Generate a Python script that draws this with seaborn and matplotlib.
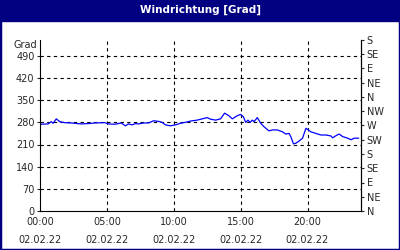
import matplotlib
matplotlib.use("Agg")
import matplotlib.pyplot as plt
import seaborn as sns
import pandas as pd
from matplotlib.patches import Rectangle

hours = [0.08, 0.6, 0.85, 0.98, 1.22, 1.48, 1.85, 2.33, 3.08, 3.6, 4.1, 4.85, 5.1, 5.6,
         6.08, 6.38, 6.62, 6.88, 7.13, 7.37, 7.75, 8.12, 8.5, 8.87, 9.13, 9.38, 9.75,
         10.13, 10.5, 10.88, 11.25, 11.75, 12.13, 12.5, 12.75, 13.13, 13.5, 13.8, 14.12,
         14.38, 14.75, 15.0, 15.2, 15.38, 15.55, 15.7, 15.88, 16.0, 16.25, 16.5, 16.75,
         17.12, 17.38, 17.75, 18.13, 18.38, 18.62, 18.75, 18.95, 19.13, 19.37, 19.63,
         19.88, 20.0, 20.25, 20.63, 21.0, 21.38, 21.75, 21.88, 22.13, 22.37, 22.63, 23.0,
         23.25, 23.5, 23.83]
grad = [274, 275, 282, 277, 291, 282, 279, 278, 275, 276, 278, 279, 275, 274,
        278, 269, 275, 272, 276, 275, 278, 278, 285, 283, 280, 272, 269,
        272, 277, 280, 284, 287, 291, 295, 290, 287, 291, 309, 301,
        291, 301, 305, 298, 280, 287, 280, 287, 282, 295, 277, 266,
        253, 256, 256, 250, 243, 245, 235, 212, 214, 221, 230,
        261, 258, 250, 245, 240, 240, 237, 231, 238, 243, 235, 230,
        225, 230, 230]

left_ticks = [0, 70, 140, 210, 280, 350, 420, 490]
right_ticks = [0, 45, 90, 135, 180, 225, 270, 315, 360, 405, 450, 495, 540]
right_labels = ["N", "NE", "E", "SE", "S", "SW", "W", "NW", "N", "NE", "E", "SE", "S"]
x_ticks = [0, 5, 10, 15, 20]
x_labels = ["00:00\n02.02.22", "05:00\n02.02.22", "10:00\n02.02.22",
            "15:00\n02.02.22", "20:00\n02.02.22"]

sns.set_style("white")
plt.rcParams['font.family'] = ['DejaVu Sans']

df = pd.DataFrame({"h": hours, "grad": grad})

fig = plt.figure(figsize=(4, 2.5), dpi=100)
fig.patch.set_facecolor("white")
navy = "#000080"
# border and title bar
fig.patches.append(Rectangle((0, 0), 1, 1, transform=fig.transFigure, fill=False,
                             edgecolor=navy, linewidth=2.5, zorder=0))
fig.patches.append(Rectangle((0, 1 - 20.5 / 250), 1, 20.5 / 250, transform=fig.transFigure,
                             facecolor=navy, edgecolor=navy, zorder=0))
fig.text(0.5, 1 - 10 / 250, "Windrichtung [Grad]", color="white", fontsize=7.5,
         fontweight="bold", ha="center", va="center")

ax = fig.add_axes([40 / 400, 1 - 211 / 250, 321 / 400, 171 / 250])
sns.lineplot(data=df, x="h", y="grad", ax=ax, color="#0000ff", linewidth=0.9)
ax.set_xlim(0, 24)
ax.set_ylim(0, 540)
ax.set_xlabel("")
ax.set_ylabel("")
for s in ["top"]:
    ax.spines[s].set_visible(False)
for s in ["left", "right", "bottom"]:
    ax.spines[s].set_color("black")
    ax.spines[s].set_linewidth(0.8)

ax.set_yticks(left_ticks)
ax.set_yticklabels([str(v) for v in left_ticks], fontsize=7)
ax.set_xticks(x_ticks)
ax.set_xticklabels(x_labels, fontsize=7, linespacing=2.1)
ax.set_xticks(range(0, 25), minor=True)
ax.tick_params(axis="y", direction="out", length=2.5, width=0.8, pad=1.5)
ax.tick_params(axis="x", which="both", direction="in", length=3, width=0.8, pad=4)
ax.tick_params(axis="x", which="minor", direction="in", length=3, width=0.8)

for v in left_ticks[1:]:
    ax.axhline(v, color="black", linestyle=(0, (3, 3)), linewidth=0.8, zorder=0)
for v in x_ticks[1:]:
    ax.axvline(v, color="black", linestyle=(0, (3, 3)), linewidth=0.8, zorder=0)

ax.text(-0.01, 1 - 5 / 171, "Grad", transform=ax.transAxes, ha="right", va="center",
        fontsize=7)

ax2 = ax.twinx()
ax2.set_ylim(0, 540)
ax2.set_yticks(right_ticks)
ax2.set_yticklabels(right_labels, fontsize=7)
ax2.tick_params(axis="y", direction="out", length=2.5, width=0.8, pad=1.5)
ax2.spines["top"].set_visible(False)
for s in ["left", "bottom"]:
    ax2.spines[s].set_visible(False)
ax2.spines["right"].set_linewidth(0.8)
ax2.spines["right"].set_color("black")
ax2.grid(False)

fig.savefig("out.png", dpi=100)
